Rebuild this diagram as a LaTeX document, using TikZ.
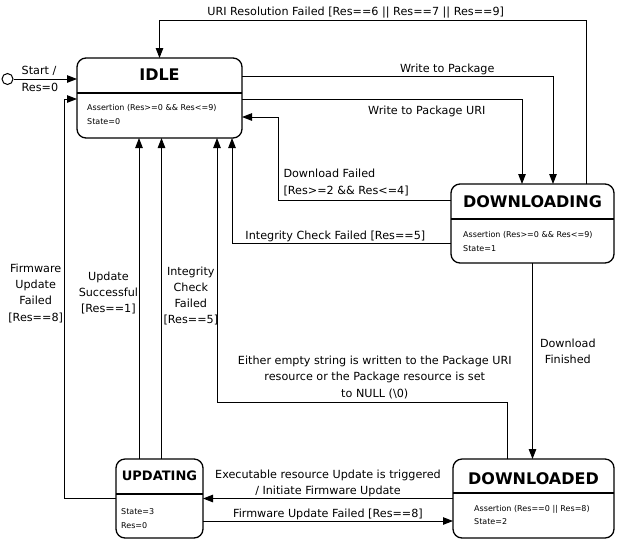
\documentclass[tikz,border=0pt]{standalone}
\usepackage{fontspec}
\setmainfont{DejaVu Sans}
\usetikzlibrary{arrows.meta}

\begin{document}
\begin{tikzpicture}[x=1pt,y=-1pt,
  >={Triangle[length=10pt,width=7.5pt]},
  state/.style={draw, rounded corners=9pt, line width=1.3pt, inner sep=0pt, outer sep=0pt},
  title/.style={font=\bfseries\fontsize{16}{19}\selectfont},
  body/.style={font=\fontsize{8}{13.5}\selectfont, align=left, anchor=west, inner sep=2pt},
  lbl/.style={font=\fontsize{11.2}{16.3}\selectfont, inner sep=1pt, align=center},
  flow/.style={->, line width=1pt}]
  \useasboundingbox (0,0) rectangle (618,542);
  \node[state, minimum width=165pt, minimum height=80pt] (idle) at (159.5,98) {};
  \node[state, minimum width=163pt, minimum height=79pt] (dling) at (532.5,223.5) {};
  \node[state, minimum width=161pt, minimum height=79pt] (dlded) at (533.5,498.5) {};
  \node[state, minimum width=87pt, minimum height=79pt] (upd) at (159.5,498.5) {};
  \foreach \st/\dy in {idle/35,dling/35,dlded/34,upd/35}
    \draw[line width=1.2pt] ([yshift=-\dy pt]\st.north west) -- ([yshift=-\dy pt]\st.north east);

  \node[title] (idlename) at ([yshift=-17pt]idle.north) {IDLE};
  \node[title] (dlingname) at ([yshift=-18pt]dling.north) {DOWNLOADING};
  \node[title] (dldedname) at ([yshift=-20pt]dlded.north) {DOWNLOADED};
  \node[title, font=\bfseries\fontsize{13}{16}\selectfont] (updname) at ([yshift=-17pt]upd.north) {UPDATING};
  \node[body] (idlebody) at ([xshift=8pt,yshift=-16.5pt]idle.west) {Assertion (Res>=0 \&\& Res<=9)\\State=0};
  \node[body] (dlingbody) at ([xshift=10pt,yshift=-18pt]dling.west) {Assertion (Res>=0 \&\& Res<=9)\\State=1};
  \node[body] (dldedbody) at ([xshift=19pt,yshift=-16.5pt]dlded.west) {Assertion (Res==0 || Res=8)\\State=2};
  \node[body] (updbody) at ([xshift=3pt,yshift=-20pt]upd.west) {State=3\\Res=0};

  \node[draw, circle, line width=1pt, minimum size=11pt, inner sep=0pt] (start) at (7.5,79) {};
  \draw[flow] (start) -- (start -| idle.west);
  \node[lbl, align=left, anchor=west] (startlbl) at ([xshift=7pt]start.east) {Start /\\[1.5pt]Res=0};

  \draw[flow] ([yshift=22pt]idle.east) -| node[lbl, above, pos=0.33] {Write to Package} ([xshift=20.5pt]dling.north);
  \draw[flow] ([yshift=-1pt]idle.east) -| node[lbl, below=5pt, pos=0.33] {Write to Package URI} ([xshift=-10.5pt]dling.north);
  \draw[flow] ([xshift=53.5pt]dling.north) |- node[lbl, above, pos=0.77] {URI Resolution Failed [Res==6 || Res==7 || Res==9]} ([yshift=38pt]idle.north) -- (idle.north);
  \draw[flow] ([yshift=23.5pt]dling.west) -| node[lbl, align=left, anchor=south west, pos=0.5, xshift=4pt, yshift=3pt] {Download Failed\\{[}Res>=2 \&\& Res<=4]} ([xshift=36pt,yshift=-19pt]idle.east) -- ([yshift=-19pt]idle.east);
  \draw[flow] ([yshift=-19.5pt]dling.west) -| node[lbl, above, pos=0.264] {Integrity Check Failed [Res==5]} ([xshift=72.5pt]idle.south);
  \draw[flow] ([xshift=-26.5pt]dlded.north) -- ++(0,-57) -| node[lbl, above=2pt, pos=0.228] {Either empty string is written to the Package URI\\resource or the Package resource is set\\to NULL (\textbackslash 0)} ([xshift=57.5pt]idle.south);
  \draw[flow] (dling.south) -- node[lbl, right=6pt, pos=0.45] {Download\\Finished} (dling.south |- dlded.north);
  \draw[flow] (dlded.west) -- node[lbl, above] {Executable resource Update is triggered\\/ Initiate Firmware Update} (dlded.west -| upd.east);
  \draw[flow] ([yshift=-22.5pt]upd.east) -- node[lbl, above] {Firmware Update Failed [Res==8]} ([yshift=-22.5pt]upd.east -| dlded.west);
  \draw[flow] (upd.west) -| node[lbl, left, inner sep=0.5pt, pos=0.757] {Firmware\\Update\\Failed\\{[}Res==8]} ([xshift=-13pt,yshift=-1pt]idle.west) -- ([yshift=-1pt]idle.west);
  \draw[flow] ([xshift=-20.5pt]upd.north) -- node[lbl, left, inner sep=0.5pt, pos=0.517] {Update\\Successful\\{[}Res==1]} ([xshift=-20.5pt]idle.south);
  \draw[flow] ([xshift=2pt]upd.north) -- node[lbl, right, inner sep=1.5pt, pos=0.508] {Integrity\\Check\\Failed\\{[}Res==5]} ([xshift=2pt]idle.south);
\end{tikzpicture}
\end{document}
